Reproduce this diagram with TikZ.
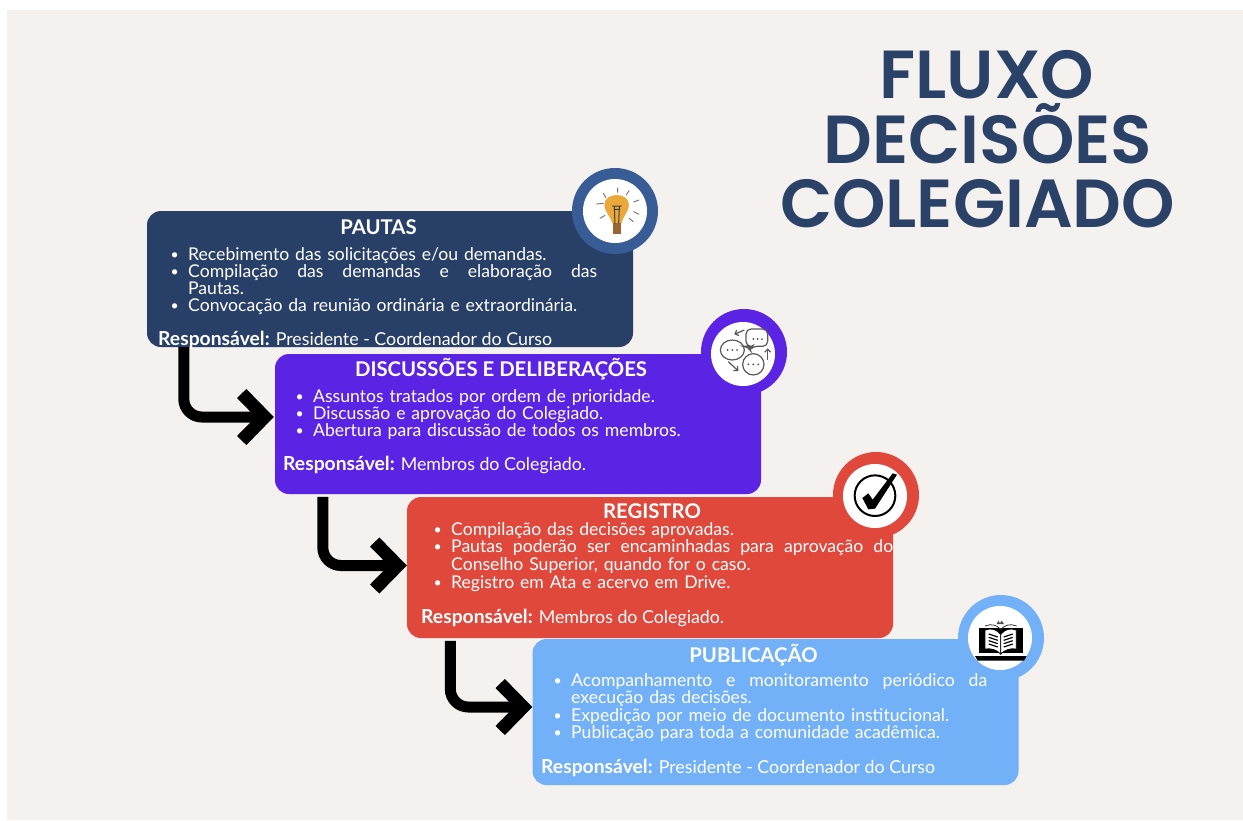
\documentclass[tikz,border=0pt]{standalone}
\usepackage{fontspec}
\usetikzlibrary{arrows.meta,calc}
\setmainfont{Lato}
\newfontfamily\titlefont{Poppins SemiBold}
\definecolor{panel}{HTML}{F5F1EE}
\definecolor{navy}{HTML}{283F68}
\definecolor{ringblue}{HTML}{375C96}
\definecolor{violet2}{HTML}{5B23E3}
\definecolor{redbox}{HTML}{E0483C}
\definecolor{skybox}{HTML}{72B1F8}
\definecolor{titleblue}{HTML}{2A4168}
\definecolor{amber}{HTML}{EAA93A}
\newcommand{\bul}{\leavevmode\llap{\raisebox{1pt}{\fontsize{14pt}{14pt}\selectfont•}\hspace{9.5pt}}}
\newcommand{\jl}[2]{\hbox to #1{#2}}
\newcommand{\rsp}{{\fontsize{19.3pt}{17pt}\selectfont\textbf{Responsável:}}}
\tikzset{
  x=1pt,y=-1pt,
  box/.style={rounded corners=14pt,minimum width=486pt,inner sep=0pt,draw=none},
  ring/.style={circle,minimum size=86pt,inner sep=0pt,draw=none},
  hole/.style={circle,fill=white,minimum size=64pt,inner sep=0pt,draw=none},
  boxtitle/.style={text=white,inner sep=0pt,anchor=base,font=\fontsize{20.3pt}{20pt}\selectfont\bfseries},
  bodytext/.style={text=white,inner sep=0pt,anchor=base west,align=left,font=\fontsize{17.6pt}{17.3pt}\selectfont},
  resp/.style={text=white,inner sep=0pt,anchor=base west,font=\fontsize{17.8pt}{17.3pt}\selectfont},
  bigtitle/.style={text=titleblue,inner sep=0pt,anchor=base,font=\fontsize{68pt}{68pt}\titlefont},
  flow/.style={draw=black,line width=11pt,rounded corners=18pt,-{Straight Barb[length=23pt,width=47pt,line width=13pt]}},
  icon/.style={x=0.3333pt,y=-0.3333pt},
  bubble/.style={draw=black!65,fill=white,line width=1.2pt},
  thinarr/.style={draw=black!65,line width=1.2pt,-{Straight Barb[length=3pt,width=6pt]}},
}
\begin{document}
\begin{tikzpicture}
\useasboundingbox (0,0) rectangle (1243,820);
\fill[white] (0,0) rectangle (1243,820);
\fill[panel] (7,10) rectangle (1243,820);

% title
\node[bigtitle] (t1) at (987,98) {FLUXO};
\node[bigtitle] (t2) at (988,163) {DECISÕES};
\node[bigtitle] (t3) at (977.5,227) {COLEGIADO};

% boxes
\node[box,fill=navy,minimum height=136pt] (pautas) at (390,279) {};
\node[box,fill=violet2,minimum height=140pt] (disc) at (518,424) {};
\node[box,fill=redbox,minimum height=141pt] (reg) at (650,567.5) {};
\node[box,fill=skybox,minimum height=146pt] (pub) at (775.5,712) {};

% connectors
\coordinate (a1) at ($(pautas.south west)+(37,0)$);
\coordinate (b1) at ($(disc.west)+(-1,-7)$);
\coordinate (a2) at ($(reg.north west)+(-84,0)$);
\coordinate (b2) at ($(reg.west)+(0,-2)$);
\coordinate (a3) at ($(pub.north west)+(-82,2)$);
\coordinate (b3) at ($(pub.west)+(0,-5)$);
\draw[flow] (a1) |- (b1);
\draw[flow] (a2) |- (b2);
\draw[flow] (a3) |- (b3);

% rings
\node[ring,fill=ringblue] (r1) at (615,211) {};
\node[hole] (h1) at (r1) {};
\node[ring,fill=violet2] (r2) at (744,352) {};
\node[hole] (h2) at (743,354) {};
\node[ring,fill=redbox] (r3) at (876,495) {};
\node[hole] (h3) at (875,496) {};
\node[ring,fill=skybox] (r4) at (1001,638) {};
\node[hole] (h4) at (1000,638) {};

% PAUTAS text
\node[boxtitle] (p0) at (378.5,234) {PAUTAS};
\node[bodytext,text width=409pt] (p1) at (188,260) {\bul Recebimento das solicitações e/ou demandas.\\
\bul\jl{409pt}{Compilação\hfill das\hfill demandas\hfill e\hfill elaboração\hfill das}\\
Pautas.\\
\bul Convocação da reunião ordinária e extraordinária.};
\node[resp] (p2) at (158,345) {\rsp{} Presidente - Coordenador do Curso};

% DISCUSSOES text
\node[boxtitle] (d0) at (501,376) {DISCUSSÕES E DELIBERAÇÕES};
\node[bodytext,text width=420pt] (d1) at (313,402) {\bul Assuntos tratados por ordem de prioridade.\\
\bul Discussão e aprovação do Colegiado.\\
\bul Abertura para discussão de todos os membros.};
\node[resp] (d2) at (283,470) {\rsp{} Membros do Colegiado.};

% REGISTRO text
\node[boxtitle] (g0) at (652,518) {REGISTRO};
\node[bodytext,text width=442pt,font=\fontsize{17.6pt}{17.8pt}\selectfont] (g1) at (451,535) {\bul Compilação das decisões aprovadas.\\
\bul\jl{442pt}{Pautas\hfill poderão\hfill ser\hfill encaminhadas\hfill para\hfill aprovação\hfill do}\\
Conselho Superior, quando for o caso.\\
\bul Registro em Ata e acervo em Drive.};
\node[resp] (g2) at (421,623) {\rsp{} Membros do Colegiado.};

% PUBLICACAO text
\node[boxtitle] (u0) at (753.5,662) {PUBLICAÇÃO};
\node[bodytext,text width=416pt,font=\fontsize{17.6pt}{17.5pt}\selectfont] (u1) at (571,686) {\bul\jl{416pt}{Acompanhamento\hfill e\hfill monitoramento\hfill periódico\hfill da}\\
execução das decisões.\\
\bul Expedição por meio de documento institucional.\\
\bul Publicação para toda a comunidade acadêmica.};
\node[resp] (u2) at (541,773) {\rsp{} Presidente - Coordenador do Curso};

% bulb icon
\begin{scope}[shift={(565,160)},icon]
\draw[black!55,line width=0.9pt,line cap=round]
  (158,84)--(158,97) (115,100)--(123,113) (192,92)--(184,105) (95,132)--(115,130)
  (222,120)--(206,126) (105,175)--(120,166) (222,163)--(206,155) (205,185)--(193,175);
\fill[amber] (142,190) .. controls (135,165) and (118,155) .. (118,135)
  .. controls (118,95) and (192,95) .. (192,135)
  .. controls (192,155) and (175,165) .. (170,190) -- cycle;
\fill[brown!80!black] (143,190) rectangle (168,222);
\draw[black!75,line width=1pt] (148,140)--(150,190) (163,140)--(161,190) (142,138)--(170,138) (146,148)--(166,148);
\end{scope}

% chat icon
\begin{scope}[shift={(695,305)},icon]
\draw[bubble] (112,135) ellipse (36 and 30);
\draw[bubble,rounded corners=5pt] (153,72) -- (218,72) -- (218,124) -- (172,124) -- (165,134) -- (160,124) -- (153,124) -- cycle;
\draw[bubble] (175,178) circle (32);
\fill[black!70] (98,135) circle (3) (112,135) circle (3) (126,135) circle (3)
  (175,102) circle (3) (188,102) circle (3) (201,102) circle (3)
  (160,178) circle (3) (175,178) circle (3) (190,178) circle (3);
\draw[thinarr] (148,75) -- (118,88);
\draw[thinarr] (100,170) -- (130,198);
\draw[thinarr] (218,165) -- (218,130);
\end{scope}

% check icon
\begin{scope}[shift={(825,448)},icon]
\draw[black,line width=2pt] (150,143) circle (61);
\fill[black] (112,150) -- (130,136) -- (143,155) -- (203,76) -- (216,80) -- (150,182) -- (130,184) -- cycle;
\end{scope}

% book icon
\begin{scope}[shift={(950,590)},icon]
\fill[black] (86,115) rectangle (219,190);
\fill[black] (75,198) -- (230,198) -- (222,212) -- (83,212) -- cycle;
\draw[black,fill=white,line width=0.8pt] (105,120) .. controls (125,113) and (140,118) .. (152,133) -- (152,192) .. controls (140,180) and (125,174) .. (105,177) -- cycle;
\draw[black,fill=white,line width=0.8pt] (199,120) .. controls (180,113) and (165,118) .. (152,133) -- (152,192) .. controls (165,180) and (180,174) .. (199,177) -- cycle;
\draw[black,line width=1.2pt] (116,132)--(143,141) (116,142)--(143,151) (116,152)--(143,161) (116,162)--(143,171)
  (188,132)--(161,141) (188,142)--(161,151) (188,152)--(161,161) (188,162)--(161,171);
\draw[black!80,line width=0.8pt] (105,108) .. controls (125,100) and (140,105) .. (152,118) .. controls (165,105) and (180,100) .. (200,108);
\fill[black!70] (140,102) -- (145,92) -- (150,100) -- (155,92) -- (162,102) -- cycle;
\end{scope}
\end{tikzpicture}
\end{document}
